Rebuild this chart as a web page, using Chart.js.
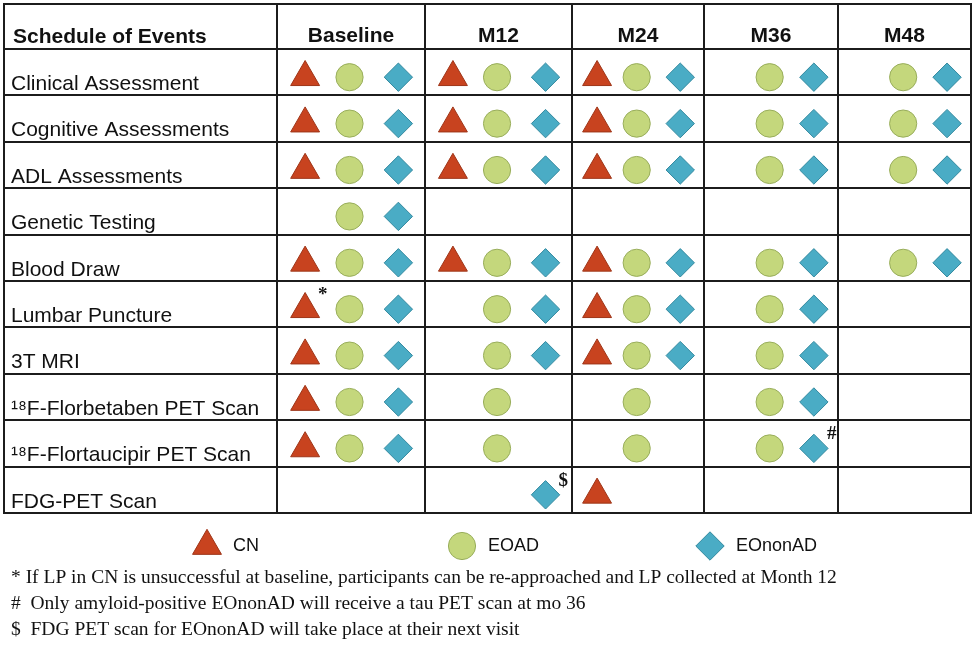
<!DOCTYPE html>
<html>
<head>
<meta charset="utf-8">
<script src="https://cdn.jsdelivr.net/npm/chart.js@4/dist/chart.umd.min.js"></script>
<style>
  html, body { margin: 0; padding: 0; background: #ffffff; overflow: hidden; }
  #wrap { width: 976px; height: 645px; }
  canvas { display: block; }
</style>
</head>
<body>
<div id="wrap"><canvas id="chart" width="976" height="645"></canvas></div>
<script>
// ---------------- DATA ----------------
const events = [
  'Clinical Assessment',
  'Cognitive Assessments',
  'ADL Assessments',
  'Genetic Testing',
  'Blood Draw',
  'Lumbar Puncture',
  '3T MRI',
  '\u00B9\u2078F-Florbetaben PET Scan',
  '\u00B9\u2078F-Flortaucipir PET Scan',
  'FDG-PET Scan'
];
const visits = ['Baseline', 'M12', 'M24', 'M36', 'M48'];
const groups = ['CN', 'EOAD', 'EOnonAD'];

// visits at which each group has the event (one list per event, in the order of `events`)
const cnSchedule = [
  ['Baseline', 'M12', 'M24'],
  ['Baseline', 'M12', 'M24'],
  ['Baseline', 'M12', 'M24'],
  [],
  ['Baseline', 'M12', 'M24'],
  ['Baseline', 'M24'],
  ['Baseline', 'M24'],
  ['Baseline'],
  ['Baseline'],
  ['M24']
];
const eoadSchedule = [
  ['Baseline', 'M12', 'M24', 'M36', 'M48'],
  ['Baseline', 'M12', 'M24', 'M36', 'M48'],
  ['Baseline', 'M12', 'M24', 'M36', 'M48'],
  ['Baseline'],
  ['Baseline', 'M12', 'M24', 'M36', 'M48'],
  ['Baseline', 'M12', 'M24', 'M36'],
  ['Baseline', 'M12', 'M24', 'M36'],
  ['Baseline', 'M12', 'M24', 'M36'],
  ['Baseline', 'M12', 'M24', 'M36'],
  []
];
const eononadSchedule = [
  ['Baseline', 'M12', 'M24', 'M36', 'M48'],
  ['Baseline', 'M12', 'M24', 'M36', 'M48'],
  ['Baseline', 'M12', 'M24', 'M36', 'M48'],
  ['Baseline'],
  ['Baseline', 'M12', 'M24', 'M36', 'M48'],
  ['Baseline', 'M12', 'M24', 'M36'],
  ['Baseline', 'M12', 'M24', 'M36'],
  ['Baseline', 'M36'],
  ['Baseline', 'M36'],
  ['M12']
];

// footnote marks attached to single marks
const noteEvents = ['Lumbar Puncture', '\u00B9\u2078F-Flortaucipir PET Scan', 'FDG-PET Scan'];
const noteVisits = ['Baseline', 'M36', 'M12'];
const noteGroups = ['CN', 'EOnonAD', 'EOnonAD'];
const noteMarks = ['*', '#', '$'];

const cornerTitle = 'Schedule of Events';
const footnotes = [
  '* If LP in CN is unsuccessful at baseline, participants can be re-approached and LP collected at Month 12',
  '#  Only amyloid-positive EOnonAD will receive a tau PET scan at mo 36',
  '$  FDG PET scan for EOnonAD will take place at their next visit'
];

// ---------------- LAYOUT / STYLE ----------------
const colWidths = [148, 147, 132, 134, 133];      // relative widths of the visit columns
const slotFrac = [0.19, 0.49, 0.82];              // position of each group inside a visit column
const colStart = colWidths.map((w, i) => colWidths.slice(0, i).reduce((a, b) => a + b, 0));
const colTotal = colWidths.reduce((a, b) => a + b, 0);

const TABLE_LEFT = 4;
const ROW_SHIFT = -5;       // table rules sit slightly above the mark rows
const LINE_COLOR = '#1c1c1c';
const styles = [
  { pointStyle: 'triangle', radius: 16.7, bg: '#C8431F', border: '#9E3518' },
  { pointStyle: 'circle',   radius: 13.6, bg: '#C4D77C', border: '#98AD5B' },
  { pointStyle: 'rectRot',  radius: 14.2, bg: '#4AACC5', border: '#33899F' }
];
const legendX = [207, 462, 710];
const legendY = 546;

function buildPoints(schedule, g) {
  const pts = [];
  schedule.forEach((vs, e) => {
    vs.forEach(v => {
      const vi = visits.indexOf(v);
      pts.push({ x: colStart[vi] + slotFrac[g] * colWidths[vi], y: events[e], visit: v });
    });
  });
  return pts;
}
const schedules = [cnSchedule, eoadSchedule, eononadSchedule];

const datasets = groups.map((gname, g) => ({
  label: gname,
  data: buildPoints(schedules[g], g),
  pointStyle: styles[g].pointStyle,
  pointRadius: styles[g].radius,
  pointHoverRadius: styles[g].radius,
  backgroundColor: styles[g].bg,
  borderColor: styles[g].border,
  pointBorderWidth: 1,
  showLine: false,
  clip: false
}));

function drawShape(ctx, style, x, y) {
  ctx.fillStyle = style.bg;
  ctx.strokeStyle = style.border;
  ctx.lineWidth = 1;
  if (Chart.helpers && Chart.helpers.drawPoint) {
    Chart.helpers.drawPoint(ctx, { pointStyle: style.pointStyle, radius: style.radius, rotation: 0, borderWidth: 1 }, x, y);
    return;
  }
  const r = style.radius;
  ctx.beginPath();
  if (style.pointStyle === 'circle') ctx.arc(x, y, r, 0, Math.PI * 2);
  else if (style.pointStyle === 'triangle') {
    ctx.moveTo(x, y - r); ctx.lineTo(x + r * Math.sin(2 * Math.PI / 3), y + r / 2);
    ctx.lineTo(x - r * Math.sin(2 * Math.PI / 3), y + r / 2); ctx.closePath();
  } else {
    ctx.moveTo(x - r, y); ctx.lineTo(x, y - r); ctx.lineTo(x + r, y); ctx.lineTo(x, y + r); ctx.closePath();
  }
  ctx.fill(); ctx.stroke();
}

const tablePlugin = {
  id: 'scheduleTable',
  beforeDatasetsDraw(chart) {
    const { ctx, scales: { x, y } } = chart;
    const top = Math.round(x.top);
    const rows = [];
    for (let i = 0; i <= events.length; i++) rows.push(Math.round(y.getPixelForValue(i - 0.5) + ROW_SHIFT));
    const bottom = rows[rows.length - 1];
    const right = Math.round(x.getPixelForValue(colTotal));
    const cols = [TABLE_LEFT].concat(colStart.map(v => Math.round(x.getPixelForValue(v)))).concat([right]);
    ctx.save();
    ctx.strokeStyle = LINE_COLOR;
    ctx.lineWidth = 2;
    ctx.beginPath();
    [top].concat(rows).forEach(yy => { ctx.moveTo(TABLE_LEFT - 1, yy); ctx.lineTo(right + 1, yy); });
    cols.forEach(xx => { ctx.moveTo(xx, top - 1); ctx.lineTo(xx, bottom + 1); });
    ctx.stroke();
    // corner header
    ctx.fillStyle = '#111';
    ctx.font = 'bold 21px "Liberation Sans", Arial, sans-serif';
    ctx.textAlign = 'left';
    ctx.textBaseline = 'middle';
    ctx.fillText(cornerTitle, TABLE_LEFT + 9, 37);
    ctx.restore();
  },
  afterDatasetsDraw(chart) {
    const { ctx } = chart;
    ctx.save();
    // footnote marks next to marks
    ctx.fillStyle = '#111';
    ctx.font = 'bold 19px "Liberation Serif", "Times New Roman", serif';
    ctx.textAlign = 'left';
    ctx.textBaseline = 'middle';
    noteMarks.forEach((m, k) => {
      const g = groups.indexOf(noteGroups[k]);
      const meta = chart.getDatasetMeta(g);
      const data = chart.data.datasets[g].data;
      const idx = data.findIndex(p => p.y === noteEvents[k] && p.visit === noteVisits[k]);
      if (idx < 0) return;
      const el = meta.data[idx];
      ctx.fillText(m, el.x + 13, el.y - 14);
    });
    // legend
    groups.forEach((gname, g) => {
      drawShape(ctx, styles[g], legendX[g], legendY);
      ctx.fillStyle = '#111';
      ctx.font = '18px "Liberation Sans", Arial, sans-serif';
      ctx.textAlign = 'left';
      ctx.textBaseline = 'middle';
      ctx.fillText(gname, legendX[g] + 26, legendY);
    });
    ctx.restore();
  }
};

new Chart(document.getElementById('chart'), {
  type: 'scatter',
  data: { datasets },
  plugins: [tablePlugin],
  options: {
    responsive: false,
    devicePixelRatio: 1,
    animation: false,
    events: [],
    layout: { autoPadding: false, padding: { left: 11, right: 5, top: 4, bottom: 0 } },
    scales: {
      x: {
        type: 'linear',
        position: 'top',
        min: 0,
        max: colTotal,
        grid: { display: false, drawTicks: false },
        border: { display: false },
        afterBuildTicks(axis) {
          axis.ticks = visits.map((v, i) => ({ value: colStart[i] + colWidths[i] / 2 }));
        },
        afterFit(axis) { axis.height = 50; },
        ticks: {
          autoSkip: false,
          maxRotation: 0,
          padding: 5,
          color: '#111',
          font: { family: '"Liberation Sans", Arial, sans-serif', size: 21, weight: 'bold' },
          callback: (val, idx) => visits[idx]
        }
      },
      y: {
        type: 'category',
        labels: events,
        offset: true,
        grid: { display: false, drawTicks: false },
        border: { display: false },
        afterFit(axis) { axis.width = 277 - 11; },
        ticks: {
          crossAlign: 'far',
          padding: 0,
          labelOffset: 7,
          autoSkip: false,
          color: '#111',
          font: { family: '"Liberation Sans", Arial, sans-serif', size: 21 }
        }
      }
    },
    plugins: {
      legend: { display: false },
      tooltip: { enabled: false },
      title: {
        display: true,
        position: 'bottom',
        align: 'start',
        text: footnotes,
        color: '#111',
        font: { family: '"Liberation Serif", "Times New Roman", serif', size: 19.5, weight: 'normal', lineHeight: 26 / 19.5 },
        padding: { top: 47, bottom: 2 }
      }
    }
  }
});
</script>
</body>
</html>
